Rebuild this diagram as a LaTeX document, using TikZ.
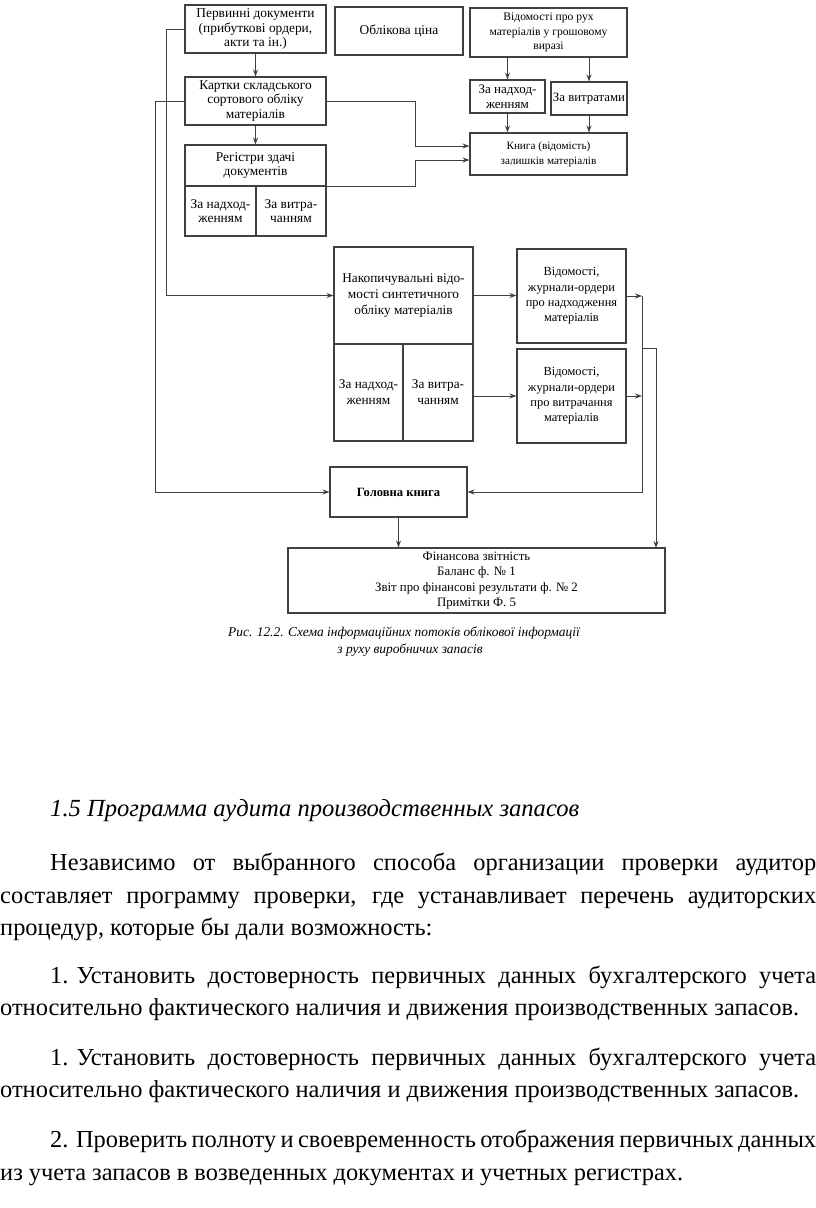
\documentclass[tikz,border=0pt]{standalone}
\usepackage{fontspec}
\setmainfont{Liberation Serif}
\usetikzlibrary{arrows.meta}
\begin{document}
\begin{tikzpicture}[x=1pt,y=-1pt,
  box/.style={draw=black!75, line width=1.1pt, inner sep=0.5pt, align=center, text=black, font=\fontsize{13.4}{14.5}\selectfont},
  small/.style={font=\fontsize{11.6}{14.5}\selectfont},
  con/.style={draw=black!75, line width=1pt},
  arr/.style={con, -{Stealth[length=7pt,width=5pt]}},
  captext/.style={inner sep=0pt, text=black, font=\fontsize{13.4}{15}\selectfont\itshape},
  body/.style={anchor=base west, inner sep=0pt, font=\fontsize{24.4}{32}\selectfont}
]
\useasboundingbox (0,0) rectangle (816,1208);
\fill[white] (0,0) rectangle (816,1208);

% boxes
\node[box, minimum width=141pt, minimum height=48pt] (A) at (255.5,29) {Первинні документи\\(прибуткові ордери,\\акти та ін.)};
\node[box, minimum width=128pt, minimum height=48pt] (B) at (399,31) {Облікова ціна};
\node[box, small, minimum width=157pt, minimum height=49pt] (C) at (548.5,32.5) {Відомості про рух\\матеріалів у грошовому\\виразі};
\node[box, minimum width=141pt, minimum height=48pt] (D) at (255.5,101) {Картки складського\\сортового обліку\\матеріалів};
\node[box, minimum width=141pt, minimum height=41pt] (E) at (255.5,165.5) {Регістри здачі\\документів};
\node[box, minimum width=71pt, minimum height=50pt] (E1) at (220.5,211) {За надход-\\женням};
\node[box, minimum width=70pt, minimum height=50pt] (E2) at (291,211) {За витра-\\чанням};
\node[box, font=\fontsize{13}{15}\selectfont, minimum width=75pt, minimum height=33pt] (F) at (507.5,96.5) {За надход-\\женням};
\node[box, font=\fontsize{12.8}{15}\selectfont, minimum width=76pt, minimum height=33pt] (G) at (589,98.5) {За витратами};
\node[box, font=\fontsize{11.2}{15}\selectfont, minimum width=157pt, minimum height=42pt] (H) at (548.5,154) {Книга (відомість)\\залишків матеріалів};
\node[box, minimum width=139pt, minimum height=97pt, font=\fontsize{13.3}{16}\selectfont] (I) at (403.5,295.5) {Накопичувальні відо-\\мості синтетичного\\обліку матеріалів};
\node[box, minimum width=69pt, minimum height=97pt, font=\fontsize{13.3}{16}\selectfont] (I1) at (368.5,392.5) {За надход-\\женням};
\node[box, minimum width=70pt, minimum height=97pt, font=\fontsize{13.3}{16}\selectfont] (I2) at (438,392.5) {За витра-\\чанням};
\node[box, minimum width=109pt, minimum height=94pt, font=\fontsize{12.4}{15.3}\selectfont] (J) at (571.5,296) {Відомості,\\журнали-ордери\\про надходження\\матеріалів};
\node[box, minimum width=109pt, minimum height=94pt, font=\fontsize{12.4}{15.3}\selectfont] (K) at (571.5,396) {Відомості,\\журнали-ордери\\про витрачання\\матеріалів};
\node[box, minimum width=137pt, minimum height=50pt, font=\fontsize{12.6}{15}\selectfont] (L) at (398.5,492) {\textbf{Головна книга}};
\node[box, minimum width=377pt, minimum height=65pt, font=\fontsize{12.8}{15.5}\selectfont] (M) at (476.5,580.5) {Фінансова звітність\\Баланс ф. № 1\\Звіт про фінансові результати ф. № 2\\Примітки Ф. 5};

\node[captext] (cap1) at (404,633) {Рис. 12.2. Схема інформаційних потоків облікової інформації};
\node[captext] (cap2) at (410,650) {з руху виробничих запасів};

% connectors
\draw[arr] (A.south) -- (D.north);
\draw[arr] (D.south) -- (E.north);
\draw[arr] (C.south -| F.north) -- (F.north);
\draw[arr] (C.south -| G.north) -- (G.north);
\draw[arr] (F.south) -- (F.south |- H.north);
\draw[arr] (G.south) -- (G.south |- H.north);
\draw[arr] (D.east) -- ++(89,0) |- ([yshift=8pt]H.west);
\draw[arr] (E.south east) -- ++(89,0) |- ([yshift=-6pt]H.west);
\draw[arr] (A.west) -- ++(-18,0) |- (I.west);
\draw[arr] (D.west) -- ++(-29,0) |- (L.west);
\draw[arr] (I.east) -- (I.east -| J.west);
\draw[arr] (K.west -| I2.east) -- (K.west);
\coordinate (bus) at (642,296);
\draw[arr] (J.east) -- (bus);
\draw[arr] (K.east) -- (K.east -| bus);
\draw[arr] (bus) |- (L.east);
\coordinate (m2) at (656,548);
\draw[arr] (K.north -| bus) -| (m2);
\draw[arr] (L.south) -- (L.south |- M.north);

% body text
\node[body, font=\fontsize{24.6}{32}\selectfont\itshape] (h) at (50,816) {1.5 Программа аудита производственных запасов};
\node[body] (p1a) at (50,870) {\makebox[766pt][s]{Независимо от выбранного способа организации проверки аудитор}};
\node[body] (p1b) at (0,903) {\makebox[816pt][s]{составляет программу проверки, где устанавливает перечень аудиторских}};
\node[body] (p1c) at (0,935) {процедур, которые бы дали возможность:};
\node[body] (p2a) at (50,983) {\makebox[766pt][s]{\hbox{1. Установить} достоверность первичных данных бухгалтерского учета}};
\node[body] (p2b) at (0,1015) {относительно фактического наличия и движения производственных запасов.};
\node[body] (p3a) at (50,1065) {\makebox[766pt][s]{\hbox{1. Установить} достоверность первичных данных бухгалтерского учета}};
\node[body] (p3b) at (0,1097) {относительно фактического наличия и движения производственных запасов.};
\node[body] (p4a) at (50,1147) {\makebox[766pt][s]{2. Проверить полноту и своевременность отображения первичных данных}};
\node[body] (p4b) at (0,1180) {из учета запасов в возведенных документах и учетных регистрах.};
\end{tikzpicture}
\end{document}
